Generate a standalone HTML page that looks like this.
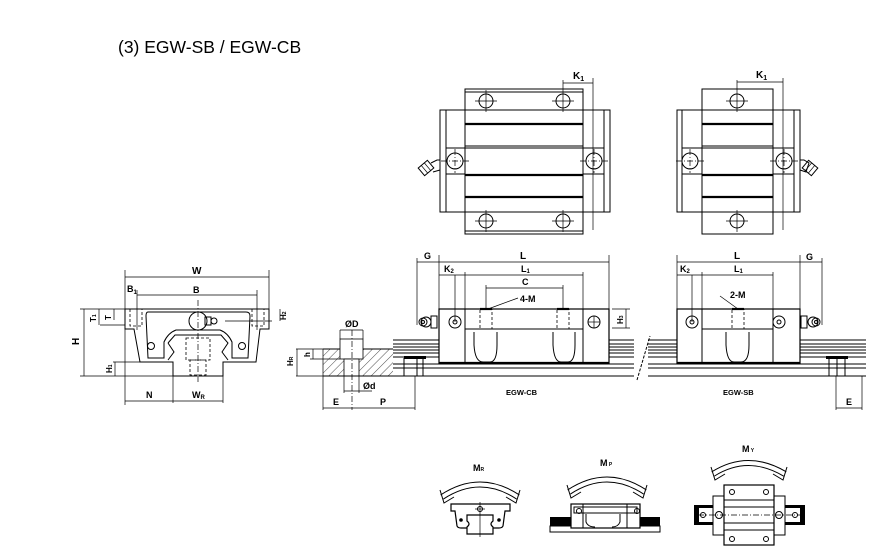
<!DOCTYPE html>
<html><head><meta charset="utf-8"><style>
html,body{margin:0;padding:0;background:#fff;}
svg{display:block;}
text{font-family:"Liberation Sans",sans-serif;font-weight:bold;fill:#000;}
.l{stroke:#000;stroke-width:1;fill:none;}
.t{stroke:#000;stroke-width:2.2;fill:none;}
.d{stroke:#000;stroke-width:0.7;fill:none;}
.c{stroke:#000;stroke-width:0.7;fill:none;stroke-dasharray:6 2 1 2;}
.h{stroke:#000;stroke-width:0.8;fill:none;stroke-dasharray:3 2;}
</style></head><body>
<svg width="894" height="555" viewBox="0 0 894 555" xmlns="http://www.w3.org/2000/svg">
<defs>
<pattern id="hat" width="6" height="6" patternUnits="userSpaceOnUse" patternTransform="rotate(45)">
<line x1="0" y1="0" x2="0" y2="6" stroke="#000" stroke-width="0.7"/></pattern>
<g id="hole"><circle r="7" class="l" stroke-width="1.6"/><line x1="-11" y1="0" x2="11" y2="0" class="d"/><line x1="0" y1="-11" x2="0" y2="11" class="d"/></g>
<g id="shole"><circle r="8" class="l"/><line x1="-14" y1="0" x2="14" y2="0" class="c"/><line x1="0" y1="-12" x2="0" y2="12" class="c"/></g>
</defs>
<text x="118" y="53" font-size="17.5" style="font-weight:normal">(3) EGW-SB / EGW-CB</text>

<!-- TOP LEFT -->
<rect x="440" y="110" width="170" height="102" class="l"/>
<line x1="446" y1="110" x2="446" y2="212" class="l"/>
<line x1="604" y1="110" x2="604" y2="212" class="l"/>
<rect x="465" y="89" width="118" height="145" class="l" fill="#fff"/>
<line x1="465" y1="92" x2="583" y2="92" class="l"/>
<line x1="465" y1="231" x2="583" y2="231" class="l"/>
<line x1="465" y1="124" x2="583" y2="124" class="t"/>
<line x1="465" y1="146" x2="583" y2="146" class="l"/><line x1="465" y1="148" x2="583" y2="148" class="l"/>
<line x1="465" y1="175" x2="583" y2="175" class="t"/>
<line x1="465" y1="197" x2="583" y2="197" class="t"/>
<rect x="446" y="148" width="19" height="26" class="l"/>
<rect x="583" y="148" width="21" height="26" class="l"/>
<use href="#hole" x="486" y="101"/><use href="#hole" x="563" y="101"/>
<use href="#hole" x="486" y="221"/><use href="#hole" x="563" y="221"/>
<use href="#shole" x="455" y="161"/><use href="#shole" x="594" y="161"/>
<line x1="593" y1="78" x2="593" y2="230" class="d"/>
<line x1="563" y1="80" x2="563" y2="90" class="d"/>
<line x1="563" y1="83" x2="593" y2="83" class="d"/>
<text x="573" y="79" font-size="10">K<tspan font-size="7" dy="2">1</tspan></text>
<g transform="translate(426,168) rotate(-40)"><rect x="-6" y="-5" width="12" height="10" class="l"/><line x1="-2" y1="-5" x2="-2" y2="5" class="d"/><line x1="2" y1="-5" x2="2" y2="5" class="d"/></g>
<path d="M431,163 L437,160 L440,160 L440,170 L433,172" class="l"/>

<!-- TOP RIGHT -->
<rect x="677" y="110" width="123" height="102" class="l"/>
<line x1="682" y1="110" x2="682" y2="212" class="l"/>
<line x1="794" y1="110" x2="794" y2="212" class="l"/>
<rect x="702" y="89" width="71" height="145" class="l" fill="#fff"/>
<line x1="702" y1="124" x2="773" y2="124" class="t"/>
<line x1="702" y1="146" x2="773" y2="146" class="l"/><line x1="702" y1="148" x2="773" y2="148" class="l"/>
<line x1="702" y1="175" x2="773" y2="175" class="t"/>
<line x1="702" y1="197" x2="773" y2="197" class="t"/>
<rect x="682" y="148" width="20" height="26" class="l"/>
<rect x="773" y="148" width="21" height="26" class="l"/>
<use href="#hole" x="737" y="101"/><use href="#hole" x="737" y="221"/>
<use href="#shole" x="690" y="161"/><use href="#shole" x="784" y="161"/>
<line x1="783" y1="78" x2="783" y2="230" class="d"/>
<line x1="737" y1="80" x2="737" y2="90" class="d"/>
<line x1="737" y1="82" x2="783" y2="82" class="d"/>
<text x="756" y="78" font-size="10">K<tspan font-size="7" dy="2">1</tspan></text>
<g transform="translate(810,168) rotate(40)"><rect x="-6" y="-5" width="12" height="10" class="l"/><line x1="-2" y1="-5" x2="-2" y2="5" class="d"/><line x1="2" y1="-5" x2="2" y2="5" class="d"/></g>
<path d="M800,160 L804,160 L809,163 L806,172 L800,170" class="l"/>

<!-- CROSS SECTION -->
<path d="M125,309 L269,309 L269,329 L260,329 L256,362 L223,362 L223,376 L173,376 L173,362 L140,362 L134,329 L125,329 Z" class="l"/>
<path d="M148,312 L246,312 Q250,312 250,316 L248,358 L232,358 L232,342 Q228,333 220,330 L176,330 Q168,333 164,342 L164,358 L148,358 L146,316 Q146,312 148,312 Z" class="l"/>
<path d="M168,343 L175,335 L221,335 L228,343 L222,352 L228,360" class="l" stroke-width="1.6"/>
<path d="M168,343 L174,352 L168,360" class="l" stroke-width="1.6"/>
<rect x="186" y="338" width="24" height="22" class="h"/>
<rect x="190" y="360" width="16" height="15" class="h"/>
<circle cx="198" cy="321" r="9" class="l"/>
<rect x="205" y="317" width="6" height="8" class="l"/>
<circle cx="214" cy="321" r="3" class="l"/>
<circle cx="151" cy="346" r="3.5" class="l"/><circle cx="242" cy="346" r="3.5" class="l"/>
<rect x="130" y="309" width="12" height="17" class="h"/><rect x="252" y="309" width="12" height="17" class="h"/>
<line x1="198" y1="300" x2="198" y2="382" class="c"/>
<line x1="225" y1="321" x2="272" y2="321" class="d"/>
<line x1="125" y1="270" x2="125" y2="405" class="d"/><line x1="269" y1="270" x2="269" y2="312" class="d"/>
<line x1="125" y1="277" x2="269" y2="277" class="d"/>
<text x="192" y="274" font-size="10">W</text>
<line x1="137" y1="290" x2="137" y2="330" class="d"/><line x1="257" y1="290" x2="257" y2="330" class="d"/>
<line x1="137" y1="295" x2="257" y2="295" class="d"/>
<text x="193" y="293" font-size="9">B</text>
<text x="127" y="292" font-size="9">B<tspan font-size="6" dy="2">1</tspan></text>
<line x1="80" y1="309" x2="125" y2="309" class="d"/><line x1="80" y1="376" x2="173" y2="376" class="d"/>
<line x1="84" y1="309" x2="84" y2="376" class="d"/>
<text x="79" y="345" font-size="10" transform="rotate(-90 79 345)">H</text>
<line x1="100" y1="325" x2="125" y2="325" class="d"/>
<line x1="99" y1="309" x2="99" y2="325" class="d"/><line x1="114" y1="309" x2="114" y2="320" class="d"/>
<text x="96" y="322" font-size="8" transform="rotate(-90 96 322)">T<tspan font-size="5">1</tspan></text>
<text x="111" y="320" font-size="8" transform="rotate(-90 111 320)">T</text>
<line x1="113" y1="362" x2="173" y2="362" class="d"/>
<line x1="115" y1="362" x2="115" y2="376" class="d"/>
<text x="112" y="373" font-size="8" transform="rotate(-90 112 373)">H<tspan font-size="5">1</tspan></text>
<line x1="280" y1="309" x2="280" y2="321" class="d"/>
<text x="286" y="320" font-size="8" transform="rotate(-90 286 320)">H<tspan font-size="5">2</tspan></text>
<line x1="173" y1="376" x2="173" y2="403" class="d"/><line x1="223" y1="376" x2="223" y2="403" class="d"/>
<line x1="125" y1="401" x2="223" y2="401" class="d"/>
<text x="146" y="398" font-size="9">N</text>
<text x="192" y="398" font-size="9">W<tspan font-size="6" dy="1">R</tspan></text>

<!-- RAIL SECTION -->
<rect x="323" y="349" width="70" height="27" fill="url(#hat)" stroke="none"/>
<rect x="340" y="339" width="23" height="20" fill="#fff" stroke="#000" stroke-width="0.8"/>
<rect x="344" y="359" width="15" height="17" fill="#fff" stroke="#000" stroke-width="0.8"/>
<line x1="323" y1="349" x2="340" y2="349" class="l"/><line x1="363" y1="349" x2="393" y2="349" class="l"/>
<line x1="323" y1="376" x2="866" y2="376" class="l"/>
<line x1="323" y1="349" x2="323" y2="410" class="d"/>
<line x1="352" y1="330" x2="352" y2="410" class="c"/>
<line x1="340" y1="330" x2="340" y2="339" class="d"/><line x1="363" y1="330" x2="363" y2="339" class="d"/>
<line x1="340" y1="330" x2="363" y2="330" class="d"/>
<text x="345" y="327" font-size="9">ØD</text>
<line x1="344" y1="376" x2="344" y2="393" class="d"/><line x1="359" y1="376" x2="359" y2="393" class="d"/>
<line x1="344" y1="391" x2="372" y2="391" class="d"/>
<text x="363" y="389" font-size="9">Ød</text>
<line x1="296" y1="349" x2="323" y2="349" class="d"/><line x1="296" y1="376" x2="323" y2="376" class="d"/>
<line x1="310" y1="359" x2="340" y2="359" class="d"/>
<line x1="297" y1="349" x2="297" y2="376" class="d"/><line x1="313" y1="349" x2="313" y2="359" class="d"/>
<text x="293" y="366" font-size="8" transform="rotate(-90 293 366)">H<tspan font-size="5">R</tspan></text>
<text x="310" y="357" font-size="8" transform="rotate(-90 310 357)">h</text>
<line x1="415" y1="376" x2="415" y2="410" class="d"/>
<line x1="323" y1="408" x2="415" y2="408" class="d"/>
<text x="333" y="405" font-size="9">E</text><text x="380" y="405" font-size="9">P</text>

<!-- RAIL SIDE -->
<g class="l">
<line x1="393" y1="340" x2="866" y2="340"/><line x1="393" y1="344" x2="866" y2="344"/>
<line x1="393" y1="347" x2="866" y2="347"/><line x1="393" y1="350" x2="866" y2="350"/>
<line x1="393" y1="353" x2="866" y2="353"/><line x1="393" y1="357" x2="866" y2="357"/>
<line x1="393" y1="364" x2="866" y2="364"/><line x1="393" y1="368" x2="866" y2="368"/>
</g>
<line x1="404" y1="358" x2="404" y2="376" class="l"/><line x1="417" y1="358" x2="417" y2="376" class="l"/><line x1="423" y1="358" x2="423" y2="376" class="l"/>
<line x1="829" y1="358" x2="829" y2="376" class="l"/><line x1="837" y1="358" x2="837" y2="376" class="l"/><line x1="845" y1="358" x2="845" y2="376" class="l"/>
<rect x="404" y="356" width="22" height="3" fill="#000"/><rect x="826" y="356" width="22" height="3" fill="#000"/>
<rect x="634" y="337" width="14" height="40" fill="#fff"/>
<line x1="637" y1="380" x2="650" y2="336" stroke="#000" stroke-width="1" stroke-dasharray="3 1.5"/>

<!-- CB front -->
<rect x="439" y="309" width="170" height="54" fill="#fff" stroke="#000" stroke-width="1.2"/>
<line x1="439" y1="363" x2="609" y2="363" class="t"/>
<line x1="465" y1="309" x2="465" y2="363" class="l"/><line x1="583" y1="309" x2="583" y2="363" class="l"/>
<line x1="465" y1="329" x2="583" y2="329" class="l"/>
<path d="M474,332 L474,345 Q475,362 483,362 L490,362 Q497,362 497,345 L497,332" class="l"/>
<path d="M553,332 L553,345 Q554,362 561,362 L568,362 Q575,362 575,345 L575,332" class="l"/>
<rect x="480" y="309" width="12" height="20" class="h"/><rect x="557" y="309" width="12" height="20" class="h"/>
<line x1="480" y1="309" x2="492" y2="309" class="t"/><line x1="557" y1="309" x2="569" y2="309" class="t"/>
<circle cx="455" cy="322" r="6" class="l" stroke-width="1.6"/><circle cx="455" cy="322" r="2" class="l"/>
<circle cx="594" cy="322" r="6" class="l" stroke-width="1.6"/><line x1="588" y1="322" x2="600" y2="322" class="d"/><line x1="594" y1="316" x2="594" y2="328" class="d"/>
<circle cx="423" cy="322" r="4" class="l"/><circle cx="426" cy="322" r="5" class="l"/><circle cx="423" cy="322" r="1.5" class="l"/>
<rect x="431" y="316" width="6" height="12" class="l"/>
<line x1="417" y1="258" x2="417" y2="325" class="d"/>
<line x1="439" y1="255" x2="439" y2="309" class="d"/><line x1="609" y1="255" x2="609" y2="309" class="d"/>
<line x1="417" y1="262" x2="609" y2="262" class="d"/>
<text x="424" y="259" font-size="9">G</text><text x="520" y="259" font-size="10">L</text>
<line x1="465" y1="272" x2="465" y2="309" class="d"/><line x1="583" y1="272" x2="583" y2="309" class="d"/>
<line x1="439" y1="275" x2="583" y2="275" class="d"/>
<text x="444" y="272" font-size="9">K<tspan font-size="6" dy="1">2</tspan></text>
<text x="521" y="272" font-size="9">L<tspan font-size="6" dy="1">1</tspan></text>
<line x1="455" y1="275" x2="455" y2="322" class="d"/>
<line x1="486" y1="285" x2="486" y2="309" class="d"/><line x1="563" y1="285" x2="563" y2="309" class="d"/>
<line x1="486" y1="288" x2="563" y2="288" class="d"/>
<text x="522" y="285" font-size="9">C</text>
<line x1="488" y1="309" x2="518" y2="298" class="d"/>
<text x="520" y="302" font-size="9">4-M</text>
<line x1="612" y1="309" x2="630" y2="309" class="d"/><line x1="612" y1="328" x2="630" y2="328" class="d"/>
<line x1="626" y1="309" x2="626" y2="328" class="d"/>
<text x="623" y="324" font-size="8" transform="rotate(-90 623 324)">H<tspan font-size="5">3</tspan></text>
<text x="506" y="395" font-size="7.5">EGW-CB</text>

<!-- SB front -->
<rect x="677" y="309" width="123" height="54" fill="#fff" stroke="#000" stroke-width="1.2"/>
<line x1="677" y1="363" x2="800" y2="363" class="t"/>
<line x1="702" y1="309" x2="702" y2="363" class="l"/><line x1="773" y1="309" x2="773" y2="363" class="l"/>
<line x1="702" y1="329" x2="773" y2="329" class="l"/>
<path d="M726,332 L726,345 Q727,362 734,362 L741,362 Q749,362 749,345 L749,332" class="l"/>
<rect x="732" y="309" width="12" height="20" class="h"/>
<line x1="732" y1="309" x2="744" y2="309" class="t"/>
<circle cx="692" cy="322" r="6" class="l" stroke-width="1.6"/><circle cx="692" cy="322" r="2" class="l"/>
<circle cx="779" cy="322" r="6" class="l" stroke-width="1.6"/><circle cx="779" cy="322" r="2" class="l"/>
<circle cx="816" cy="322" r="4" class="l"/><circle cx="813" cy="322" r="5" class="l"/><circle cx="816" cy="322" r="1.5" class="l"/>
<rect x="801" y="316" width="6" height="12" class="l"/>
<line x1="677" y1="255" x2="677" y2="309" class="d"/><line x1="800" y1="255" x2="800" y2="309" class="d"/>
<line x1="822" y1="258" x2="822" y2="325" class="d"/>
<line x1="677" y1="262" x2="822" y2="262" class="d"/>
<text x="734" y="259" font-size="10">L</text><text x="806" y="260" font-size="9">G</text>
<line x1="702" y1="272" x2="702" y2="309" class="d"/><line x1="773" y1="272" x2="773" y2="309" class="d"/>
<line x1="677" y1="275" x2="773" y2="275" class="d"/>
<text x="680" y="272" font-size="9">K<tspan font-size="6" dy="1">2</tspan></text>
<text x="734" y="272" font-size="9">L<tspan font-size="6" dy="1">1</tspan></text>
<line x1="692" y1="275" x2="692" y2="322" class="d"/>
<line x1="738" y1="309" x2="720" y2="296" class="d"/>
<text x="730" y="298" font-size="9">2-M</text>
<text x="723" y="395" font-size="7.5">EGW-SB</text>
<line x1="836" y1="376" x2="836" y2="410" class="d"/><line x1="862" y1="376" x2="862" y2="410" class="d"/>
<line x1="836" y1="408" x2="862" y2="408" class="d"/>
<text x="846" y="405" font-size="9">E</text>

<!-- MOMENT ICONS -->
<g class="l">
<path d="M442,497 Q480,472 518,497" stroke-width="6" stroke="#000"/>
<path d="M442,497 Q480,472 518,497" stroke-width="4" stroke="#fff"/>
<path d="M440,490 L444,503 L454,497" />
<path d="M520,490 L516,503 L506,497"/>
<path d="M569,492 Q607,467 645,492" stroke-width="6" stroke="#000"/>
<path d="M569,492 Q607,467 645,492" stroke-width="4" stroke="#fff"/>
<path d="M567,485 L571,498 L581,492"/><path d="M647,485 L643,498 L633,492"/>
<path d="M713,474 Q748,452 785,474" stroke-width="6" stroke="#000"/>
<path d="M713,474 Q748,452 785,474" stroke-width="4" stroke="#fff"/>
<path d="M711,467 L715,480 L725,474"/><path d="M787,467 L783,480 L773,474"/>
</g>
<text x="473" y="471" font-size="9">M<tspan font-size="5">R</tspan></text>
<text x="600" y="466" font-size="9">M<tspan font-size="5"> P</tspan></text>
<text x="742" y="452" font-size="9">M<tspan font-size="5"> Y</tspan></text>
<!-- MR icon -->
<path d="M451,504 L510,504 L510,511 L505,511 L503,526 Q502,528 499,528 L461,528 Q458,528 457,526 L455,511 L451,511 Z" fill="#fff" stroke="#000" stroke-width="1.2"/>
<path d="M467,515 L493,515 L493,521 Q489,524 493,527 L493,534 L467,534 L467,527 Q471,524 467,521 Z" fill="#fff" stroke="#000" stroke-width="1.2"/>
<circle cx="461" cy="520" r="1.8" fill="#000"/><circle cx="499" cy="520" r="1.8" fill="#000"/>
<circle cx="480" cy="509" r="2.5" class="l"/>
<line x1="480" y1="502" x2="480" y2="537" class="d"/><line x1="475" y1="509" x2="485" y2="509" class="d"/>
<!-- MP icon -->
<rect x="550" y="517" width="110" height="9" fill="#000"/>
<rect x="550" y="526" width="110" height="6" class="l"/>
<rect x="571" y="504" width="69" height="24" fill="#fff" stroke="#000" stroke-width="1.2"/>
<rect x="574" y="507" width="63" height="6" class="l"/>
<circle cx="579" cy="511" r="2.5" class="l"/><circle cx="637" cy="511" r="2.5" class="l"/>
<line x1="583" y1="504" x2="583" y2="528" class="l"/><line x1="627" y1="504" x2="627" y2="528" class="l"/>
<path d="M586,514 L586,522 Q588,527 595,527" class="l"/><path d="M620,514 L620,522 Q618,527 612,527" class="l"/>
<!-- MY icon -->
<rect x="694" y="505" width="111" height="20" fill="#000"/>
<rect x="699" y="508" width="101" height="14" fill="#fff"/>
<rect x="713" y="496" width="72" height="39" fill="#fff" stroke="#000"/>
<rect x="724" y="485" width="50" height="60" fill="#fff" stroke="#000" stroke-width="1.2"/>
<line x1="724" y1="500" x2="774" y2="500" class="l"/><line x1="724" y1="507" x2="774" y2="507" class="l"/>
<line x1="724" y1="523" x2="774" y2="523" class="l"/><line x1="724" y1="530" x2="774" y2="530" class="l"/>
<line x1="698" y1="515" x2="802" y2="515" class="c"/>
<circle cx="732" cy="492" r="2.5" class="l"/><circle cx="766" cy="492" r="2.5" class="l"/>
<circle cx="732" cy="539" r="2.5" class="l"/><circle cx="766" cy="539" r="2.5" class="l"/>
<circle cx="719" cy="515" r="3.5" class="l"/><circle cx="779" cy="515" r="3.5" class="l"/>
<circle cx="703" cy="515" r="2.5" class="l"/><circle cx="795" cy="515" r="2.5" class="l"/>
</svg>
</body></html>
